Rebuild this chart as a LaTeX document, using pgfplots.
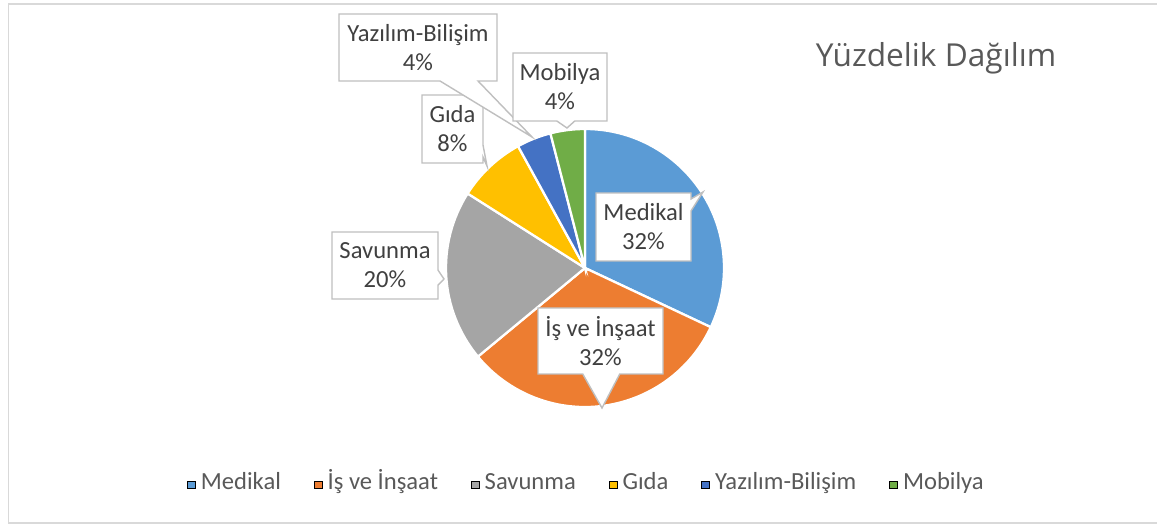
\documentclass[border=0pt]{standalone}
\usepackage{pgfplots}
\usepackage{pgfplotstable}
\pgfplotsset{compat=1.18}
\usepackage{fontspec}
\setmainfont{Carlito}
\newfontfamily\titlefont{Open Sans}
\usetikzlibrary{shapes.callouts}

\definecolor{cMed}{HTML}{5B9BD5}
\definecolor{cIns}{HTML}{ED7D31}
\definecolor{cSav}{HTML}{A5A5A5}
\definecolor{cGid}{HTML}{FFC000}
\definecolor{cYaz}{HTML}{4472C4}
\definecolor{cMob}{HTML}{70AD47}
\definecolor{txtdark}{HTML}{404040}
\definecolor{txtgray}{HTML}{595959}
\definecolor{boxline}{HTML}{BFBFBF}
\definecolor{frame}{HTML}{D9D9D9}

\newcommand{\lbl}{\fontsize{14}{16.5}\selectfont}

% share of each sector (%)
\pgfplotstableread[col sep=comma]{
name,pct,col
Medikal,32,cMed
İş ve İnşaat,32,cIns
Savunma,20,cSav
Gıda,8,cGid
Yazılım-Bilişim,4,cYaz
Mobilya,4,cMob
}\piedata

\tikzset{lab/.style={rectangle callout, draw=boxline, fill=white, line width=0.8pt,
  align=center, text=txtdark, font=\lbl, inner sep=0pt}}

\begin{document}
\begin{tikzpicture}
\begin{axis}[
  scale only axis,
  width=23.14cm, height=10.5cm,
  xmin=0, xmax=1157, ymin=0, ymax=525,
  hide axis,
  clip=false,
  legend columns=-1,
  legend style={at={(axis cs:587,40)}, anchor=center, draw=none, fill=none,
    font=\lbl, text=txtgray,
    nodes={text height=0.75em, text depth=0.22em, inner xsep=0.06cm},
    /tikz/every odd column/.append style={column sep=0.04cm},
    /tikz/every even column/.append style={column sep=0.6cm}},
  legend image code/.code={\fill[#1] (0,-0.075cm) rectangle (0.16cm,0.075cm);},
]
\draw[frame, line width=0.9pt] (axis cs:1157,521) -- (axis cs:8.5,521)
  -- (axis cs:8.5,2) -- (axis cs:1157,2);

% pie slices, clockwise from the top
\pgfmathsetmacro\angA{90}
\pgfplotsforeachungrouped \i in {0,...,5}{
  \pgfplotstablegetelem{\i}{pct}\of\piedata \let\slicepct\pgfplotsretval
  \pgfplotstablegetelem{\i}{col}\of\piedata \let\slicecol\pgfplotsretval
  \pgfmathsetmacro\angB{\angA-3.6*\slicepct}
  \edef\temp{\noexpand\fill[\slicecol, draw=white, line width=1.3pt]
    (axis cs:585,257) -- ++(\angA:2.78cm)
    arc[start angle=\angA, end angle=\angB, radius=2.78cm] -- cycle;}
  \temp
  \global\let\angA\angB
}

\addlegendimage{fill=cMed}\addlegendentry{Medikal}
\addlegendimage{fill=cIns}\addlegendentry{İş ve İnşaat}
\addlegendimage{fill=cSav}\addlegendentry{Savunma}
\addlegendimage{fill=cGid}\addlegendentry{Gıda}
\addlegendimage{fill=cYaz}\addlegendentry{Yazılım-Bilişim}
\addlegendimage{fill=cMob}\addlegendentry{Mobilya}

\node[lab, minimum width=1.9cm, minimum height=1.36cm, callout pointer width=0.24cm,
  callout absolute pointer={(axis cs:703,333)}] at (axis cs:643.5,298) {Medikal\\32\%};
\node[lab, minimum width=2.5cm, minimum height=1.32cm, callout pointer width=0.74cm,
  callout absolute pointer={(axis cs:602,117)}] at (axis cs:600.5,184) {İş ve İnşaat\\32\%};
\node[lab, minimum width=2.12cm, minimum height=1.34cm, callout pointer width=0.3cm,
  callout absolute pointer={(axis cs:444,246)}] at (axis cs:385,259.5) {Savunma\\20\%};
\node[lab, minimum width=1.22cm, minimum height=1.36cm, callout pointer width=0.24cm,
  callout absolute pointer={(axis cs:487,359)}] at (axis cs:452.5,396) {Gıda\\8\%};
\node[lab, minimum width=3.16cm, minimum height=1.34cm, callout pointer width=0.76cm,
  callout absolute pointer={(axis cs:532,388)}] at (axis cs:418,477.5) {Yazılım-Bilişim\\4\%};
\node[lab, minimum width=1.88cm, minimum height=1.36cm, callout pointer width=0.36cm,
  callout absolute pointer={(axis cs:567,397)}] at (axis cs:560,438) {Mobilya\\4\%};

\node[font=\titlefont\fontsize{18}{22}\selectfont, text=txtgray, inner sep=0pt]
  at (axis cs:936,467) {Yüzdelik Dağılım};
\end{axis}
\pgfresetboundingbox
\path (current axis.south west) rectangle (current axis.north east);
\end{tikzpicture}
\end{document}
